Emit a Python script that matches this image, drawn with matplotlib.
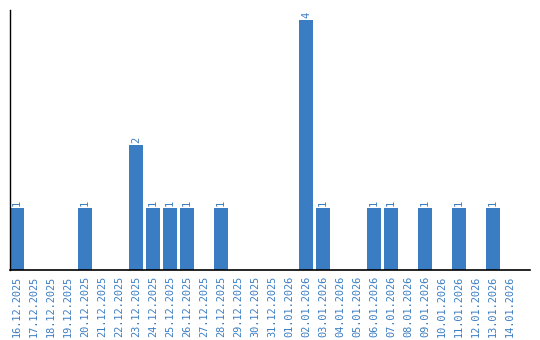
import matplotlib
matplotlib.use('Agg')
import matplotlib.pyplot as plt
import numpy as np

dates = ['16.12.2025', '17.12.2025', '18.12.2025', '19.12.2025', '20.12.2025',
         '21.12.2025', '22.12.2025', '23.12.2025', '24.12.2025', '25.12.2025',
         '26.12.2025', '27.12.2025', '28.12.2025', '29.12.2025', '30.12.2025',
         '31.12.2025', '01.01.2026', '02.01.2026', '03.01.2026', '04.01.2026',
         '05.01.2026', '06.01.2026', '07.01.2026', '08.01.2026', '09.01.2026',
         '10.01.2026', '11.01.2026', '12.01.2026', '13.01.2026', '14.01.2026']
counts = [1, 0, 0, 0, 1, 0, 0, 2, 1, 1,
          1, 0, 1, 0, 0, 0, 0, 4, 1, 0,
          0, 1, 1, 0, 1, 0, 1, 0, 1, 0]

blue = '#3b7dc2'
fig = plt.figure(figsize=(5.4, 3.4), dpi=100)
ax = fig.add_axes([10/540, 70/340, 520/540, 260/340])

x = np.arange(len(dates))
bars = ax.bar(x, counts, width=0.82, color=blue)
for xi, c in zip(x, counts):
    if c > 0:
        ax.text(xi, c + 0.03, str(c), rotation=90, ha='center', va='bottom',
                color=blue, fontsize=7.5, family='DejaVu Sans Mono')

ax.set_xlim(-0.41, 30.18)
ax.set_ylim(0, 4.16)
ax.set_xticks(x)
ax.set_xticklabels(dates, rotation=90, color=blue, fontsize=7.4, family='DejaVu Sans Mono')
ax.set_yticks([])
ax.tick_params(axis='x', length=0, pad=4)
for s in ['top', 'right']:
    ax.spines[s].set_visible(False)
ax.spines['left'].set_linewidth(1)
ax.spines['bottom'].set_linewidth(1.2)

fig.savefig('out.png', dpi=100)
